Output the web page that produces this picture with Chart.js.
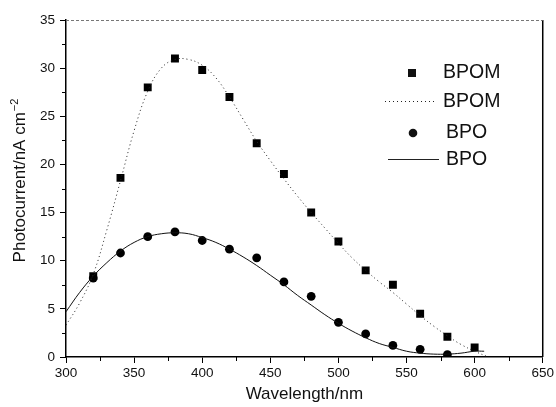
<!DOCTYPE html>
<html>
<head>
<meta charset="utf-8">
<script src="https://cdn.jsdelivr.net/npm/chart.js@4/dist/chart.umd.min.js"></script>
<style>
  html, body { margin: 0; padding: 0; background: #fff; }
  #wrap { width: 556px; height: 407px; }
</style>
</head>
<body>
<div id="wrap"><canvas id="photo"></canvas></div>
<script>
// measured points
const wavelengths = [320, 340, 360, 380, 400, 420, 440, 460, 480, 500, 520, 540, 560, 580, 600];
const bpomValues = [8.4, 18.6, 28.0, 31.0, 29.8, 27.0, 22.2, 19.0, 15.0, 12.0, 9.0, 7.5, 4.5, 2.1, 1.0];
const bpoValues = [8.2, 10.8, 12.5, 13.0, 12.1, 11.2, 10.3, 7.8, 6.3, 3.6, 2.4, 1.2, 0.8, 0.25];

// fitted curves
const fitWavelengths = [300, 310, 320, 330, 340, 350, 360, 370, 380, 390, 400, 410, 420, 430, 440, 450,
                        460, 470, 480, 490, 500, 510, 520, 530, 540, 550, 560, 570, 580, 590, 600, 610];
const bpomFit = [3.3, 5.6, 8.6, 13.2, 18.3, 23.5, 27.6, 30.0, 30.9, 30.9, 30.3, 29.0, 27.0, 24.7, 22.4, 20.4,
                 18.5, 16.7, 15.0, 13.4, 11.8, 10.3, 9.0, 7.8, 6.7, 5.5, 4.3, 3.2, 2.2, 1.3, 0.6, 0.0];
const bpoFitWavelengths = [300, 310, 320, 330, 340, 350, 360, 370, 380, 390, 400, 410, 420, 430, 440, 450,
                           460, 470, 480, 490, 500, 510, 520, 530, 540, 550, 560, 570, 580, 590, 600, 607];
const bpoFit = [4.7, 6.7, 8.4, 9.8, 11.0, 11.9, 12.5, 12.8, 12.9, 12.8, 12.4, 11.9, 11.2, 10.4, 9.5, 8.5,
                7.5, 6.4, 5.4, 4.4, 3.5, 2.7, 2.0, 1.4, 1.0, 0.6, 0.4, 0.3, 0.3, 0.4, 0.6, 0.6];

const xTicks = [300, 350, 400, 450, 500, 550, 600, 650];
const yTicks = [0, 5, 10, 15, 20, 25, 30, 35];

const FONT = '"Liberation Sans", Arial, sans-serif';
const pts = (xs, ys) => ys.map((v, i) => ({ x: xs[i], y: v }));

const decor = {
  id: 'decor',
  afterDraw(chart) {
    const { ctx, chartArea: a, scales: { x, y } } = chart;
    ctx.save();
    // right frame
    ctx.strokeStyle = '#000';
    ctx.lineWidth = 1.5;
    ctx.beginPath();
    ctx.moveTo(a.right, a.top);
    ctx.lineTo(a.right, a.bottom);
    ctx.stroke();
    // top frame (faint)
    ctx.strokeStyle = '#777';
    ctx.lineWidth = 1;
    ctx.setLineDash([3, 2]);
    ctx.beginPath();
    ctx.moveTo(a.left, a.top + 0.5);
    ctx.lineTo(a.right, a.top + 0.5);
    ctx.stroke();
    ctx.setLineDash([]);

    // minor ticks
    ctx.strokeStyle = '#000';
    ctx.lineWidth = 1;
    for (let i = 0; i < yTicks.length - 1; i++) {
      const py = Math.round(y.getPixelForValue((yTicks[i] + yTicks[i + 1]) / 2)) + 0.5;
      ctx.beginPath();
      ctx.moveTo(a.left - 4, py);
      ctx.lineTo(a.left, py);
      ctx.stroke();
    }
    for (let i = 0; i < xTicks.length - 1; i++) {
      const px = Math.round(x.getPixelForValue((xTicks[i] + xTicks[i + 1]) / 2)) + 0.5;
      ctx.beginPath();
      ctx.moveTo(px, a.bottom);
      ctx.lineTo(px, a.bottom + 4);
      ctx.stroke();
    }

    // y title with superscript
    ctx.fillStyle = '#111';
    ctx.translate(25, 181);
    ctx.rotate(-Math.PI / 2);
    ctx.font = '17px ' + FONT;
    const main = 'Photocurrent/nA cm';
    const sup = '\u22122';
    const wMain = ctx.measureText(main).width;
    ctx.font = '11px ' + FONT;
    const wSup = ctx.measureText(sup).width;
    const start = -(wMain + wSup) / 2;
    ctx.textBaseline = 'alphabetic';
    ctx.textAlign = 'left';
    ctx.font = '17px ' + FONT;
    ctx.fillText(main, start, 0);
    ctx.font = '11px ' + FONT;
    ctx.fillText(sup, start + wMain + 1, -7);
    ctx.restore();

    // legend
    ctx.save();
    ctx.font = '19.5px ' + FONT;
    ctx.fillStyle = '#111';
    ctx.textBaseline = 'middle';
    ctx.textAlign = 'left';
    ctx.fillRect(408, 69, 8, 8);
    ctx.fillText('BPOM', 443, 73);
    ctx.strokeStyle = '#222';
    ctx.lineWidth = 1;
    ctx.setLineDash([1, 3]);
    ctx.beginPath();
    ctx.moveTo(385, 101.5);
    ctx.lineTo(436, 101.5);
    ctx.stroke();
    ctx.setLineDash([]);
    ctx.fillText('BPOM', 443, 102);
    ctx.beginPath();
    ctx.arc(413, 133, 4.3, 0, Math.PI * 2);
    ctx.fill();
    ctx.fillText('BPO', 446, 133);
    ctx.beginPath();
    ctx.moveTo(388, 159.5);
    ctx.lineTo(439, 159.5);
    ctx.stroke();
    ctx.fillText('BPO', 446, 160);
    ctx.restore();
  }
};

new Chart(document.getElementById('photo').getContext('2d'), {
  type: 'scatter',
  data: {
    datasets: [{
      label: 'BPOM',
      type: 'line',
      data: pts(fitWavelengths, bpomFit),
      borderColor: '#222',
      borderWidth: 1,
      borderDash: [1, 3],
      pointRadius: 0,
      tension: 0.4,
      fill: false
    }, {
      label: 'BPO',
      type: 'line',
      data: pts(bpoFitWavelengths, bpoFit),
      borderColor: '#111',
      borderWidth: 1,
      pointRadius: 0,
      tension: 0.4,
      fill: false
    }, {
      label: 'BPOM',
      data: pts(wavelengths, bpomValues),
      pointStyle: 'rect',
      pointRadius: 5.6,
      backgroundColor: '#000',
      borderColor: '#000',
      borderWidth: 0
    }, {
      label: 'BPO',
      data: pts(wavelengths, bpoValues),
      pointStyle: 'circle',
      pointRadius: 4.4,
      backgroundColor: '#000',
      borderColor: '#000',
      borderWidth: 0
    }]
  },
  options: {
    responsive: true,
    maintainAspectRatio: false,
    animation: false,
    layout: { padding: { top: 20, right: 12, left: 0, bottom: 0 } },
    scales: {
      x: {
        type: 'linear',
        min: 300,
        max: 650,
        afterFit: s => { s.height = 50; },
        afterBuildTicks: s => { s.ticks = xTicks.map(v => ({ value: v })); },
        ticks: {
          color: '#111',
          padding: 2,
          font: { family: FONT, size: 13.5 }
        },
        grid: { drawOnChartArea: false, drawTicks: true, tickLength: 6, tickColor: '#000' },
        border: { color: '#000', width: 1.5 },
        title: {
          display: true,
          text: 'Wavelength/nm',
          color: '#111',
          padding: { top: 0, bottom: 2 },
          font: { family: FONT, size: 17 }
        }
      },
      y: {
        min: 0,
        max: 35,
        afterFit: s => { s.width = 66; },
        afterBuildTicks: s => { s.ticks = yTicks.map(v => ({ value: v })); },
        ticks: {
          color: '#111',
          padding: 5,
          font: { family: FONT, size: 13.5 }
        },
        grid: { drawOnChartArea: false, drawTicks: true, tickLength: 6, tickColor: '#000' },
        border: { color: '#000', width: 1.5 }
      }
    },
    plugins: {
      legend: { display: false },
      tooltip: { enabled: false }
    }
  },
  plugins: [decor]
});
</script>
</body>
</html>
